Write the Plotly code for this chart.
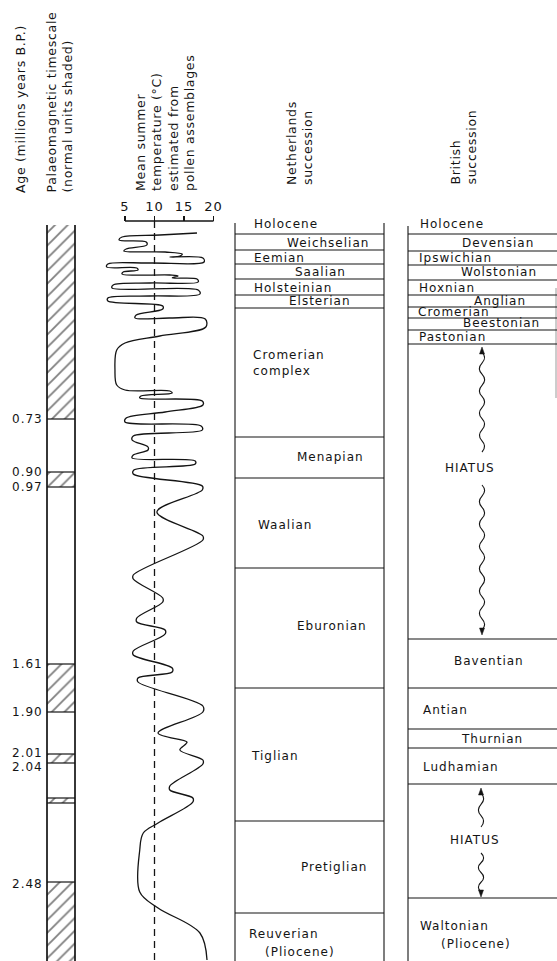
import plotly.graph_objects as go

W, H = 557, 961
FONT = "DejaVu Sans"
INK = "#141414"

# ---------------- data ----------------
# Palaeomagnetic timescale (vertical positions on the diagram, top = 0)
mag_labels = ["0.73", "0.90", "0.97", "1.61", "1.90", "2.01", "2.04", "2.48"]
mag_label_pos = [419, 472, 487, 664, 712, 753, 767, 884]
mag_boundaries = [419, 472, 487, 664, 712, 754, 763, 798, 803, 882]
normal_top = [225, 472, 664, 754, 798, 882]
normal_bottom = [419, 487, 712, 763, 803, 961]

# Mean summer temperature curve (deg C) against diagram position
temp = [17.2, 10.9, 4.5, 4.0, 8.6, 8.7, 5.2, 4.8, 11.8, 14.7,
        14.3, 12.6, 18.2, 18.4, 9.2, 2.1, 1.9, 7.0, 7.2, 4.7,
        4.5, 12.6, 14.0, 13.0, 17.2, 17.4, 9.2, 3.0, 2.8, 17.4,
        17.7, 9.2, 2.1, 2.1, 11.4, 11.4, 6.9, 6.7, 12.6, 18.6,
        18.7, 10.9, 5.0, 3.6, 3.3, 3.6, 5.0, 12.6, 13.0, 7.7,
        7.5, 18.1, 18.2, 11.8, 5.2, 5.0, 17.9, 18.1, 6.4, 6.2,
        8.9, 8.9, 6.4, 6.2, 16.9, 16.9, 6.5, 6.4, 18.1, 18.1,
        10.4, 18.2, 18.2, 6.4, 6.4, 11.4, 11.4, 7.0, 7.0, 11.8,
        11.8, 6.4, 6.4, 13.0, 13.0, 7.2, 7.2, 18.2, 18.2, 10.6,
        15.5, 15.3, 14.3, 18.2, 18.2, 12.6, 12.6, 16.5, 16.5, 10.6,
        8.1, 7.5, 7.5, 10.6, 17.7, 18.9]
depth = [233, 235, 237, 240, 242, 245, 249, 251, 252, 254,
         256, 257, 258, 262, 263, 264, 267, 268, 270, 272,
         274, 275, 276, 278, 279, 282, 283, 285, 288, 290,
         294, 296, 298, 301, 306, 309, 315, 318, 318, 319,
         327, 336, 343, 350, 370, 385, 390, 391, 393, 396,
         398, 401, 405, 412, 418, 422, 426, 430, 436, 440,
         447, 450, 455, 458, 461, 464, 470, 474, 486, 490,
         512, 536, 540, 575, 579, 598, 602, 618, 622, 630,
         634, 651, 655, 668, 672, 678, 682, 706, 712, 733,
         742, 744, 750, 760, 764, 786, 790, 798, 802, 823,
         833, 850, 892, 908, 933, 960]
temp_ticks = [5, 10, 15, 20]

# Netherlands succession
nl_bounds = [234, 250, 264, 279, 295, 308, 437, 478, 568, 688, 821, 913]
nl_names = ["Holocene", "Weichselian", "Eemian", "Saalian", "Holsteinian",
            "Elsterian", "Cromerian<br>complex", "Menapian", "Waalian",
            "Eburonian", "Tiglian", "Pretiglian", "Reuverian", "(Pliocene)"]
nl_name_x = [252, 285, 252, 293, 252, 287, 251, 295, 256, 295, 249, 299, 247, 263]
nl_name_y = [224, 243, 258, 272, 288, 301, 363, 457, 525, 626, 756, 867, 934, 952]

# British succession
gb_bounds = [234, 251, 265, 280, 295, 307, 318, 330, 344, 639, 688, 729, 748, 784, 898]
gb_names = ["Holocene", "Devensian", "Ipswichian", "Wolstonian", "Hoxnian",
            "Anglian", "Cromerian", "Beestonian", "Pastonian", "Baventian",
            "Antian", "Thurnian", "Ludhamian", "Waltonian", "(Pliocene)"]
gb_name_x = [418, 460, 417, 459, 417, 472, 416, 461, 417, 452, 421, 459, 421, 418, 439]
gb_name_y = [224, 243, 258, 272, 288, 301, 312, 323, 337, 661, 710, 739, 767, 926, 944]
hiatus_y = [468, 840]
hiatus_x = [470, 475]
# wavy arrows: (tip_top, wiggle_end, wiggle_start, tip_bottom)
hiatus_arrows = [(347, 452, 485, 635), (788, 827, 853, 897)]
hiatus_arrow_x = [482, 481]

headers = [
    ("Age (millions years B.P.)", 20, 195),
    ("Palaeomagnetic timescale<br>(normal units shaded)", 59, 195),
    ("Mean summer<br>temperature (°C)<br>estimated from<br>pollen assemblages", 165, 193),
    ("Netherlands<br>succession", 299, 187),
    ("British<br>succession", 463, 187),
]


def sp(t, ls=1.0):
    return "<br>".join(f'<span style="letter-spacing:{ls}px">{p}</span>' for p in t.split("<br>"))


fig = go.Figure()
shapes = []
ann = []

# ---- palaeomagnetic column (hatched normal units) ----
fig.add_trace(go.Bar(
    x=[61] * len(normal_top), base=normal_top,
    y=[b - t for t, b in zip(normal_top, normal_bottom)],
    width=28, xaxis="x", yaxis="y",
    marker=dict(color="white", line=dict(width=0),
                pattern=dict(shape="/", fgcolor="#000000", bgcolor="white", size=9, solidity=0.2)),
    hoverinfo="skip"))
for xv in (47, 75):
    shapes.append(dict(type="line", xref="x", yref="y", x0=xv, x1=xv, y0=225, y1=961,
                       line=dict(color=INK, width=1.7)))
for b in mag_boundaries:
    shapes.append(dict(type="line", xref="x", yref="y", x0=47, x1=75, y0=b, y1=b,
                       line=dict(color=INK, width=1.2)))
for lab, yv in zip(mag_labels, mag_label_pos):
    ann.append(dict(x=45, y=yv, xref="x", yref="y", text=sp(lab), showarrow=False,
                    xanchor="right", yanchor="middle", font=dict(family=FONT, size=12, color=INK)))

# ---- temperature curve ----
fig.add_trace(go.Scatter(x=temp, y=depth, xaxis="x2", yaxis="y", mode="lines",
                         line=dict(color=INK, width=1.3, shape="spline", smoothing=1.0),
                         hoverinfo="skip"))
shapes.append(dict(type="line", xref="x2", yref="y", x0=10, x1=10, y0=221, y1=961,
                   line=dict(color=INK, width=1.3, dash="7px,5px")))
shapes.append(dict(type="line", xref="x2", yref="y", x0=temp_ticks[0], x1=temp_ticks[-1],
                   y0=221, y1=221, line=dict(color=INK, width=1.3)))

# ---- Netherlands column ----
for xv in (235, 384):
    shapes.append(dict(type="line", xref="x", yref="y", x0=xv, x1=xv, y0=223, y1=961,
                       line=dict(color=INK, width=1.1)))
for b in nl_bounds:
    shapes.append(dict(type="line", xref="x", yref="y", x0=235, x1=384, y0=b, y1=b,
                       line=dict(color=INK, width=1.1)))
for n, xv, yv in zip(nl_names, nl_name_x, nl_name_y):
    ann.append(dict(x=xv, y=yv, xref="x", yref="y", text=sp(n), showarrow=False, align="left",
                    xanchor="left", yanchor="middle", font=dict(family=FONT, size=12, color=INK)))

# ---- British column ----
shapes.append(dict(type="line", xref="x", yref="y", x0=408, x1=408, y0=226, y1=961,
                   line=dict(color=INK, width=1.1)))
shapes.append(dict(type="line", xref="x", yref="y", x0=556, x1=556, y0=288, y1=398,
                   line=dict(color="#9a9a9a", width=1)))
for b in gb_bounds:
    shapes.append(dict(type="line", xref="x", yref="y", x0=408, x1=557, y0=b, y1=b,
                       line=dict(color=INK, width=1.1)))
for n, xv, yv in zip(gb_names, gb_name_x, gb_name_y):
    ann.append(dict(x=xv, y=yv, xref="x", yref="y", text=sp(n), showarrow=False,
                    xanchor="left", yanchor="middle", font=dict(family=FONT, size=12, color=INK)))
for xv, yv in zip(hiatus_x, hiatus_y):
    ann.append(dict(x=xv, y=yv, xref="x", yref="y", text=sp("HIATUS"), showarrow=False,
                    xanchor="center", yanchor="middle", font=dict(family=FONT, size=12, color=INK)))


def wavy(x, y0, y1, amp=2.6, period=22):
    d = f"M {x},{y0}"
    n = max(1, int(round((y1 - y0) / (period / 2))))
    step = (y1 - y0) / n
    for i in range(n):
        ya = y0 + step * i
        s = amp if i % 2 == 0 else -amp
        d += f" Q {x + 2 * s},{ya + step / 2} {x},{ya + step}"
    return d


for (t0, e0, s1, t1), xv in zip(hiatus_arrows, hiatus_arrow_x):
    shapes.append(dict(type="path", xref="x", yref="y", path=wavy(xv, t0 + 5, e0),
                       line=dict(color=INK, width=1.1)))
    shapes.append(dict(type="path", xref="x", yref="y", path=wavy(xv, s1, t1 - 5),
                       line=dict(color=INK, width=1.1)))
    shapes.append(dict(type="path", xref="x", yref="y",
                       path=f"M {xv},{t0} L {xv - 2.5},{t0 + 7} L {xv + 2.5},{t0 + 7} Z",
                       fillcolor=INK, line=dict(color=INK, width=0.5)))
    shapes.append(dict(type="path", xref="x", yref="y",
                       path=f"M {xv},{t1} L {xv - 2.5},{t1 - 7} L {xv + 2.5},{t1 - 7} Z",
                       fillcolor=INK, line=dict(color=INK, width=0.5)))

# ---- rotated headers ----
for txt, xv, yv in headers:
    ann.append(dict(x=xv, y=yv, xref="x", yref="y", text=sp(txt, 0.7), showarrow=False,
                    textangle=-90, xanchor="center", yanchor="bottom", align="left",
                    font=dict(family=FONT, size=12.5, color=INK)))

t_lo = 5 - 30 / 5.9
t_hi = 5 + 100 / 5.9
fig.update_layout(
    width=W, height=H, margin=dict(l=0, r=0, t=0, b=0),
    paper_bgcolor="white", plot_bgcolor="white", showlegend=False,
    xaxis=dict(range=[0, W], visible=False, domain=[0, 1], fixedrange=True),
    yaxis=dict(range=[H, 0], visible=False, domain=[0, 1], fixedrange=True),
    xaxis2=dict(domain=[95 / W, 225 / W], range=[t_lo, t_hi], anchor="free",
                position=1 - 221 / H, side="top", showline=False, showgrid=False,
                zeroline=False, ticks="outside", ticklen=5, tickwidth=1.3, tickcolor=INK,
                tickvals=temp_ticks, ticktext=[sp(str(v)) for v in temp_ticks],
                tickfont=dict(family=FONT, size=13, color=INK), fixedrange=True),
    shapes=shapes, annotations=ann, bargap=0,
)

fig.write_html("out.html", config={"displayModeBar": False, "staticPlot": True},
               post_script="document.body.style.margin='0';document.body.style.overflow='hidden';")
